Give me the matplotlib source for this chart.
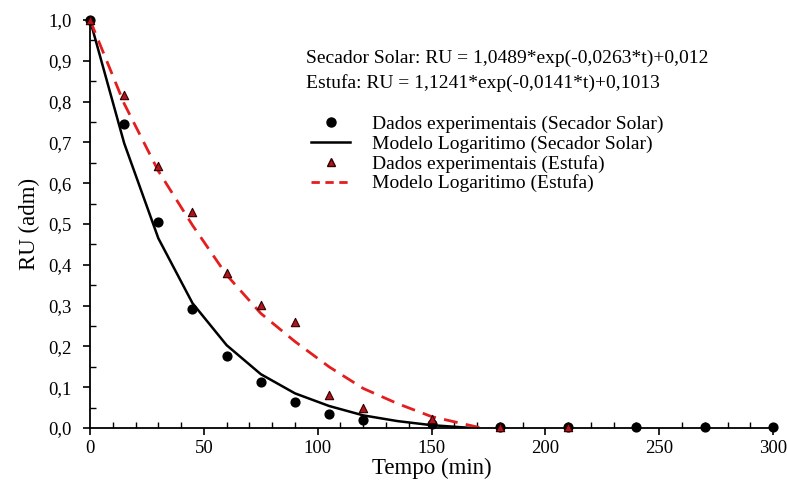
import matplotlib
matplotlib.use("Agg")
import matplotlib.pyplot as plt
from matplotlib.ticker import MultipleLocator, FuncFormatter
from matplotlib.lines import Line2D

plt.rcParams['font.family'] = ['Liberation Serif', 'DejaVu Serif']

# Experimental data - Secador Solar
t_solar = [0, 15, 30, 45, 60, 75, 90, 105, 120, 150, 180, 210, 240, 270, 300]
ru_solar = [1.0, 0.744, 0.506, 0.291, 0.177, 0.113, 0.064, 0.034, 0.020, 0.010, 0.002, 0.002, 0.002, 0.002, 0.002]

# Experimental data - Estufa
t_estufa = [0, 15, 30, 45, 60, 75, 90, 105, 120, 150, 180, 210]
ru_estufa = [1.0, 0.816, 0.642, 0.530, 0.379, 0.302, 0.261, 0.081, 0.050, 0.022, 0.003, 0.003]

# Model curves (as drawn)
t_mod_solar = [0, 15, 30, 45, 60, 75, 90, 105, 120, 135, 150, 168]
ru_mod_solar = [1.0, 0.698, 0.465, 0.306, 0.203, 0.132, 0.085, 0.054, 0.031, 0.017, 0.007, 0.0]

t_mod_estufa = [0, 15, 30, 45, 60, 75, 90, 105, 120, 135, 150, 172]
ru_mod_estufa = [1.0, 0.795, 0.630, 0.497, 0.375, 0.281, 0.212, 0.150, 0.097, 0.060, 0.028, 0.0]

eq_solar = "Secador Solar: RU = 1,0489*exp(-0,0263*t)+0,012"
eq_estufa = "Estufa: RU = 1,1241*exp(-0,0141*t)+0,1013"

fig = plt.figure(figsize=(7.87, 4.86), dpi=100)
ax = fig.add_axes([0.1144, 0.1193, 0.8679, 0.8395])

red = '#e41e1e'
ax.plot(t_mod_solar, ru_mod_solar, color='black', lw=1.8, zorder=2)
ax.plot(t_mod_estufa, ru_mod_estufa, color=red, lw=2.0, dashes=(5, 3), zorder=2)
ax.scatter(t_solar, ru_solar, s=40, color='black', zorder=3, clip_on=False)
ax.scatter(t_estufa, ru_estufa, s=36, marker='^', facecolor='#b0141c', edgecolor='#300000', linewidths=0.8, zorder=4, clip_on=False)

ax.set_xlim(0, 300)
ax.set_ylim(0, 1.0)
for s in ['top', 'right']:
    ax.spines[s].set_visible(False)
ax.spines['left'].set_linewidth(1.3)
ax.spines['bottom'].set_linewidth(1.3)

ax.xaxis.set_major_locator(MultipleLocator(50))
ax.xaxis.set_minor_locator(MultipleLocator(10))
ax.yaxis.set_major_locator(MultipleLocator(0.1))
ax.yaxis.set_minor_locator(MultipleLocator(0.05))
ax.yaxis.set_major_formatter(FuncFormatter(lambda v, p: f"{v:.1f}".replace('.', ',')))
ax.tick_params(which='major', direction='out', length=5, width=1.2, labelsize=13.5)
ax.tick_params(axis='y', which='major', pad=8)
ax.tick_params(which='minor', direction='in', length=4, width=1.0)

ax.set_xlabel('Tempo (min)', fontsize=16.5, labelpad=1)
ax.set_ylabel('RU (adm)', fontsize=16.5, labelpad=6)

ax.text(0.316, 0.907, eq_solar, transform=ax.transAxes, fontsize=14, va='center')
ax.text(0.316, 0.846, eq_estufa, transform=ax.transAxes, fontsize=14, va='center')

handles = [
    Line2D([], [], marker='o', color='black', ls='none', markersize=6.5),
    Line2D([], [], color='black', lw=1.8),
    Line2D([], [], marker='^', ls='none', markerfacecolor='#b0141c', markeredgecolor='#300000', markersize=6),
    Line2D([], [], color=red, lw=2.0, dashes=(3, 2)),
]
labels = ['Dados experimentais (Secador Solar)', 'Modelo Logaritimo (Secador Solar)',
          'Dados experimentais (Estufa)', 'Modelo Logaritimo (Estufa)']
ax.legend(handles, labels, loc='upper left', bbox_to_anchor=(0.31, 0.79), frameon=False,
          fontsize=14, handlelength=2.0, handletextpad=1.1, labelspacing=0.1, borderpad=0)

fig.savefig('out.png', dpi=100)
